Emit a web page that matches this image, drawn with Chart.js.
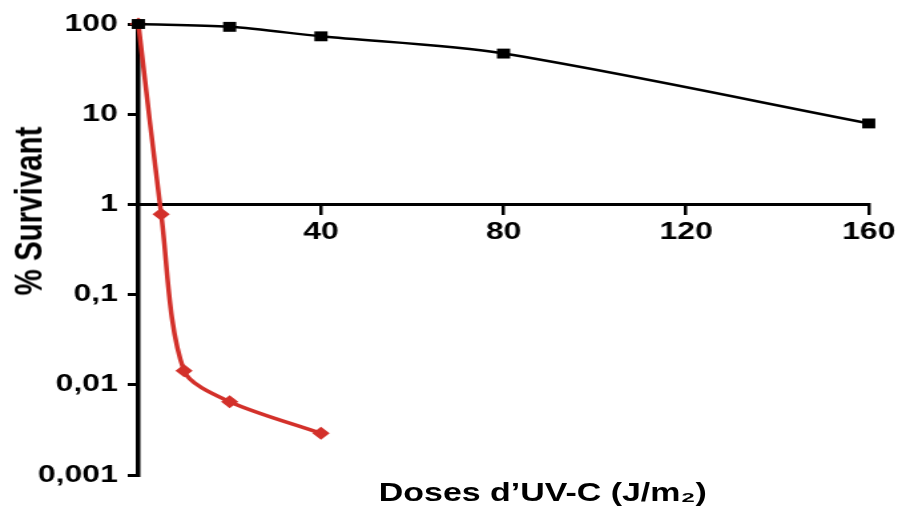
<!DOCTYPE html>
<html><head><meta charset="utf-8">
<script src="https://cdn.jsdelivr.net/npm/chart.js@4.4.1/dist/chart.umd.min.js"></script>
<style>
html,body{margin:0;padding:0;background:#fff;overflow:hidden;width:902px;height:510px;}
#wrap{position:relative;width:678px;height:510px;transform:scaleX(1.3304);transform-origin:0 0;}
#c{position:absolute;left:0;top:0;}
.t{position:absolute;font-family:"Liberation Sans",Arial,sans-serif;font-weight:bold;color:#000;white-space:nowrap;line-height:1;}
#yt{left:21px;top:211px;font-size:29.5px;transform:translate(-50%,-50%) rotate(-90deg);}
#xt{left:408px;top:493px;font-size:25.5px;transform:translate(-50%,-50%);}
</style></head><body>
<div id="wrap"><canvas id="c" width="678" height="510"></canvas>
<div class="t" id="yt">% Survivant</div>
<div class="t" id="xt">Doses d’UV-C (J/m₂)</div></div>
<script>
const doses1 = [0, 20, 40, 80, 160];
const survival1 = [100, 93, 73, 47, 7.9];
const doses2 = [0, 5, 10, 20, 40];
const survival2 = [100, 0.78, 0.0143, 0.0065, 0.0029];
const xTickValues = [40, 80, 120, 160];
const xTickLabels = ['40', '80', '120', '160'];
const yTickValues = [0.001, 0.01, 0.1, 1, 10, 100];
const yTickLabels = ['0,001', '0,01', '0,1', '1', '10', '100'];

const tickFont = {family: '"Liberation Sans", Arial, sans-serif', weight: 'bold', size: 24};

new Chart(document.getElementById('c'), {
  type: 'line',
  data: {
    datasets: [
      {
        data: doses1.map((d, i) => ({x: d, y: survival1[i]})),
        borderColor: '#000', backgroundColor: '#000', borderWidth: 2.5,
        pointStyle: 'rect', pointRadius: 7, pointBorderWidth: 0,
        tension: 0.3, clip: false
      },
      {
        data: doses2.map((d, i) => ({x: d, y: survival2[i]})),
        borderColor: '#d3302a', backgroundColor: '#d3302a', borderWidth: 3.5,
        pointStyle: 'rectRot', pointRadius: 6.5, pointBorderWidth: 0,
        tension: 0.3, clip: false
      }
    ]
  },
  options: {
    responsive: false, animation: false, devicePixelRatio: 1,
    layout: {padding: {left: 0, right: 24.6, top: 24, bottom: 35}},
    plugins: {legend: {display: false}, tooltip: {enabled: false}},
    scales: {
      x: {
        type: 'linear', min: 0, max: 160, position: {y: 1},
        afterBuildTicks: s => { s.ticks = xTickValues.map(v => ({value: v})); },
        ticks: {font: tickFont, color: '#000', padding: 5,
          callback: (v) => xTickLabels[xTickValues.indexOf(v)], maxRotation: 0, autoSkip: false},
        grid: {drawOnChartArea: false, drawTicks: true, tickLength: 9, color: '#000', lineWidth: 2.5},
        border: {display: true, color: '#000', width: 3}
      },
      y: {
        type: 'logarithmic', min: 0.001, max: 100, position: 'left',
        afterBuildTicks: s => { s.ticks = yTickValues.map(v => ({value: v})); },
        afterFit: s => { s.width = 104; },
        ticks: {font: tickFont, color: '#000', padding: 7.5,
          callback: (v) => yTickLabels[yTickValues.indexOf(v)], autoSkip: false},
        grid: {drawOnChartArea: false, drawTicks: true, tickLength: 8, color: '#000', lineWidth: 3},
        border: {display: true, color: '#000', width: 3.5}
      }
    }
  }
});
</script>
</body></html>
